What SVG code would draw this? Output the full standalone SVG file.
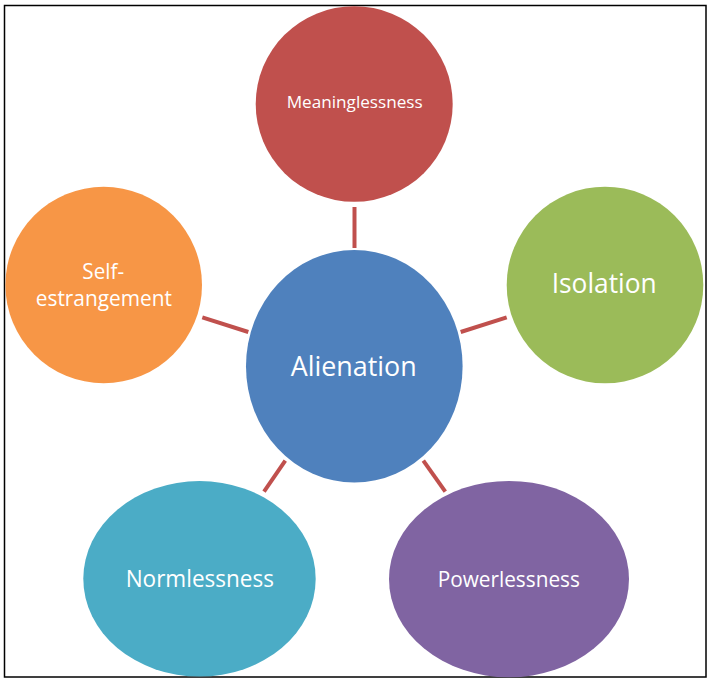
<svg xmlns="http://www.w3.org/2000/svg" width="708" height="683" viewBox="0 0 708 683">
<style>
  .lbl { font-family: "Open Sans", "Liberation Sans", sans-serif; fill: #ffffff; text-anchor: middle; }
  .conn line { stroke: #C0504D; stroke-width: 4; }
</style>
<rect x="0" y="0" width="708" height="683" fill="#ffffff"/>
<rect x="4.5" y="5.5" width="701.5" height="671.5" fill="none" stroke="#000000" stroke-width="1.5"/>
<g id="connectors" class="conn">
  <line x1="354.5" y1="207" x2="354.5" y2="248"/>
  <line x1="202.3" y1="317.3" x2="248.3" y2="332"/>
  <line x1="460.7" y1="332" x2="506.7" y2="317.3"/>
  <line x1="285.3" y1="460.7" x2="264" y2="491.7"/>
  <line x1="423.3" y1="460.7" x2="445.3" y2="491.7"/>
</g>
<g id="meaninglessness">
  <ellipse cx="354.2" cy="104" rx="98.5" ry="97.8" fill="#C0504D"/>
  <text class="lbl" x="354.7" y="108.3" font-size="17" textLength="136" lengthAdjust="spacingAndGlyphs">Meaninglessness</text>
</g>
<g id="isolation">
  <ellipse cx="605" cy="285" rx="98.3" ry="98.3" fill="#9BBB59"/>
  <text class="lbl" x="604.2" y="293.3" font-size="28" textLength="105" lengthAdjust="spacingAndGlyphs">Isolation</text>
</g>
<g id="self-estrangement">
  <ellipse cx="103.7" cy="285" rx="98.3" ry="98.2" fill="#F79646"/>
  <text class="lbl" x="103.2" y="279" font-size="21" textLength="41.7" lengthAdjust="spacingAndGlyphs">Self-</text>
  <text class="lbl" x="103.9" y="305.7" font-size="21" textLength="136.3" lengthAdjust="spacingAndGlyphs">estrangement</text>
</g>
<g id="alienation">
  <ellipse cx="354.3" cy="366.3" rx="108.3" ry="116.3" fill="#4F81BD"/>
  <text class="lbl" x="353.7" y="376" font-size="28" textLength="126" lengthAdjust="spacingAndGlyphs">Alienation</text>
</g>
<g id="normlessness">
  <ellipse cx="199.5" cy="578.8" rx="116.2" ry="97.8" fill="#4BACC6"/>
  <text class="lbl" x="199.8" y="586.7" font-size="23" textLength="148.3" lengthAdjust="spacingAndGlyphs">Normlessness</text>
</g>
<g id="powerlessness">
  <ellipse cx="509" cy="579.1" rx="120" ry="98.2" fill="#8064A2"/>
  <text class="lbl" x="508.8" y="586.7" font-size="21" textLength="142.3" lengthAdjust="spacingAndGlyphs">Powerlessness</text>
</g>
</svg>
